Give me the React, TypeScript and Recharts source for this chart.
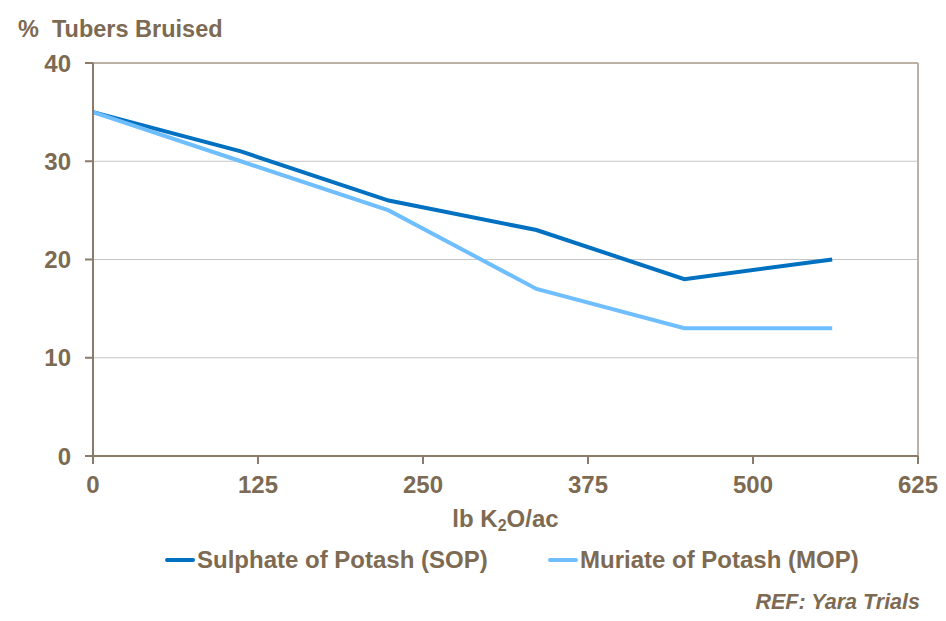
import React from 'react';
import {
  LineChart,
  Line,
  XAxis,
  YAxis,
  CartesianGrid,
  Legend,
  ReferenceLine
} from 'recharts';

const rates = [0, 112, 224, 336, 448, 560];
const sopValues = [35, 31, 26, 23, 18, 20];
const mopValues = [35, 30, 25, 17, 13, 13];
const xTicks = [0, 125, 250, 375, 500, 625];
const yTicks = [0, 10, 20, 30, 40];

const seriesNames = ['Sulphate of Potash (SOP)', 'Muriate of Potash (MOP)'];
const seriesColors = ['#0070C0', '#6FBEFF'];

const data = rates.map((r, i) => ({ rate: r, sop: sopValues[i], mop: mopValues[i] }));

const TEXT = '#7D6A53';
const AXIS = '#8C7B6A';
const FONT = '"Liberation Sans", Arial, sans-serif';

const tickStyle = { fill: TEXT, fontSize: 24, fontWeight: 700, fontFamily: FONT };

const LegendContent = () => (
  <div style={{ display: 'flex', fontFamily: FONT }}>
    {seriesNames.map((name, i) => (
      <div
        key={name}
        style={{ display: 'flex', alignItems: 'center', width: i === 0 ? 383 : 'auto' }}
      >
        <div style={{ width: 30, height: 4, borderRadius: 2, background: seriesColors[i], marginRight: 2 }} />
        <span style={{ color: TEXT, fontSize: 24, fontWeight: 700, whiteSpace: 'nowrap' }}>{name}</span>
      </div>
    ))}
  </div>
);

const App: React.FC = () => {
  return (
    <div style={{ position: 'relative', width: 946, height: 621, background: '#fff', fontFamily: FONT }}>
      <style>{'body{margin:0}'}</style>
      <div
        style={{
          position: 'absolute',
          left: 18,
          top: 16,
          color: TEXT,
          fontSize: 23.5,
          fontWeight: 700,
          whiteSpace: 'pre'
        }}
      >
        {'%  Tubers Bruised'}
      </div>
      <LineChart
        width={946}
        height={621}
        data={data}
        margin={{ top: 63, right: 28, bottom: 0, left: 0 }}
      >
        <CartesianGrid horizontal vertical={false} stroke="#C6C6C6" strokeWidth={1} />
        <ReferenceLine y={40} stroke="#BDB1A5" strokeWidth={2} />
        <ReferenceLine x={625} stroke="#BDB1A5" strokeWidth={2} />
        <XAxis
          dataKey="rate"
          type="number"
          domain={[0, 625]}
          ticks={xTicks}
          height={135}
          tick={tickStyle}
          tickSize={8}
          tickMargin={12}
          stroke={AXIS}
          strokeWidth={2}
          interval={0}
        />
        <YAxis
          type="number"
          domain={[0, 40]}
          ticks={yTicks}
          width={93}
          tick={tickStyle}
          tickSize={8}
          tickMargin={14}
          stroke={AXIS}
          strokeWidth={2}
          interval={0}
        />
        <Line
          dataKey="sop"
          name={seriesNames[0]}
          stroke={seriesColors[0]}
          strokeWidth={4}
          dot={false}
          isAnimationActive={false}
        />
        <Line
          dataKey="mop"
          name={seriesNames[1]}
          stroke={seriesColors[1]}
          strokeWidth={4}
          dot={false}
          isAnimationActive={false}
        />
        <Legend
          content={<LegendContent />}
          wrapperStyle={{ position: 'absolute', top: 546, left: 165, width: 760, height: 30 }}
        />
      </LineChart>
      <div
        style={{
          position: 'absolute',
          left: 93,
          width: 825,
          top: 505,
          textAlign: 'center',
          color: TEXT,
          fontSize: 24,
          fontWeight: 700
        }}
      >
        lb K<sub style={{ fontSize: 16, verticalAlign: -4 }}>2</sub>O/ac
      </div>
      <div
        style={{
          position: 'absolute',
          right: 26,
          top: 590,
          color: TEXT,
          fontSize: 21.5,
          fontWeight: 700,
          fontStyle: 'italic'
        }}
      >
        REF: Yara Trials
      </div>
    </div>
  );
};

export default App;
